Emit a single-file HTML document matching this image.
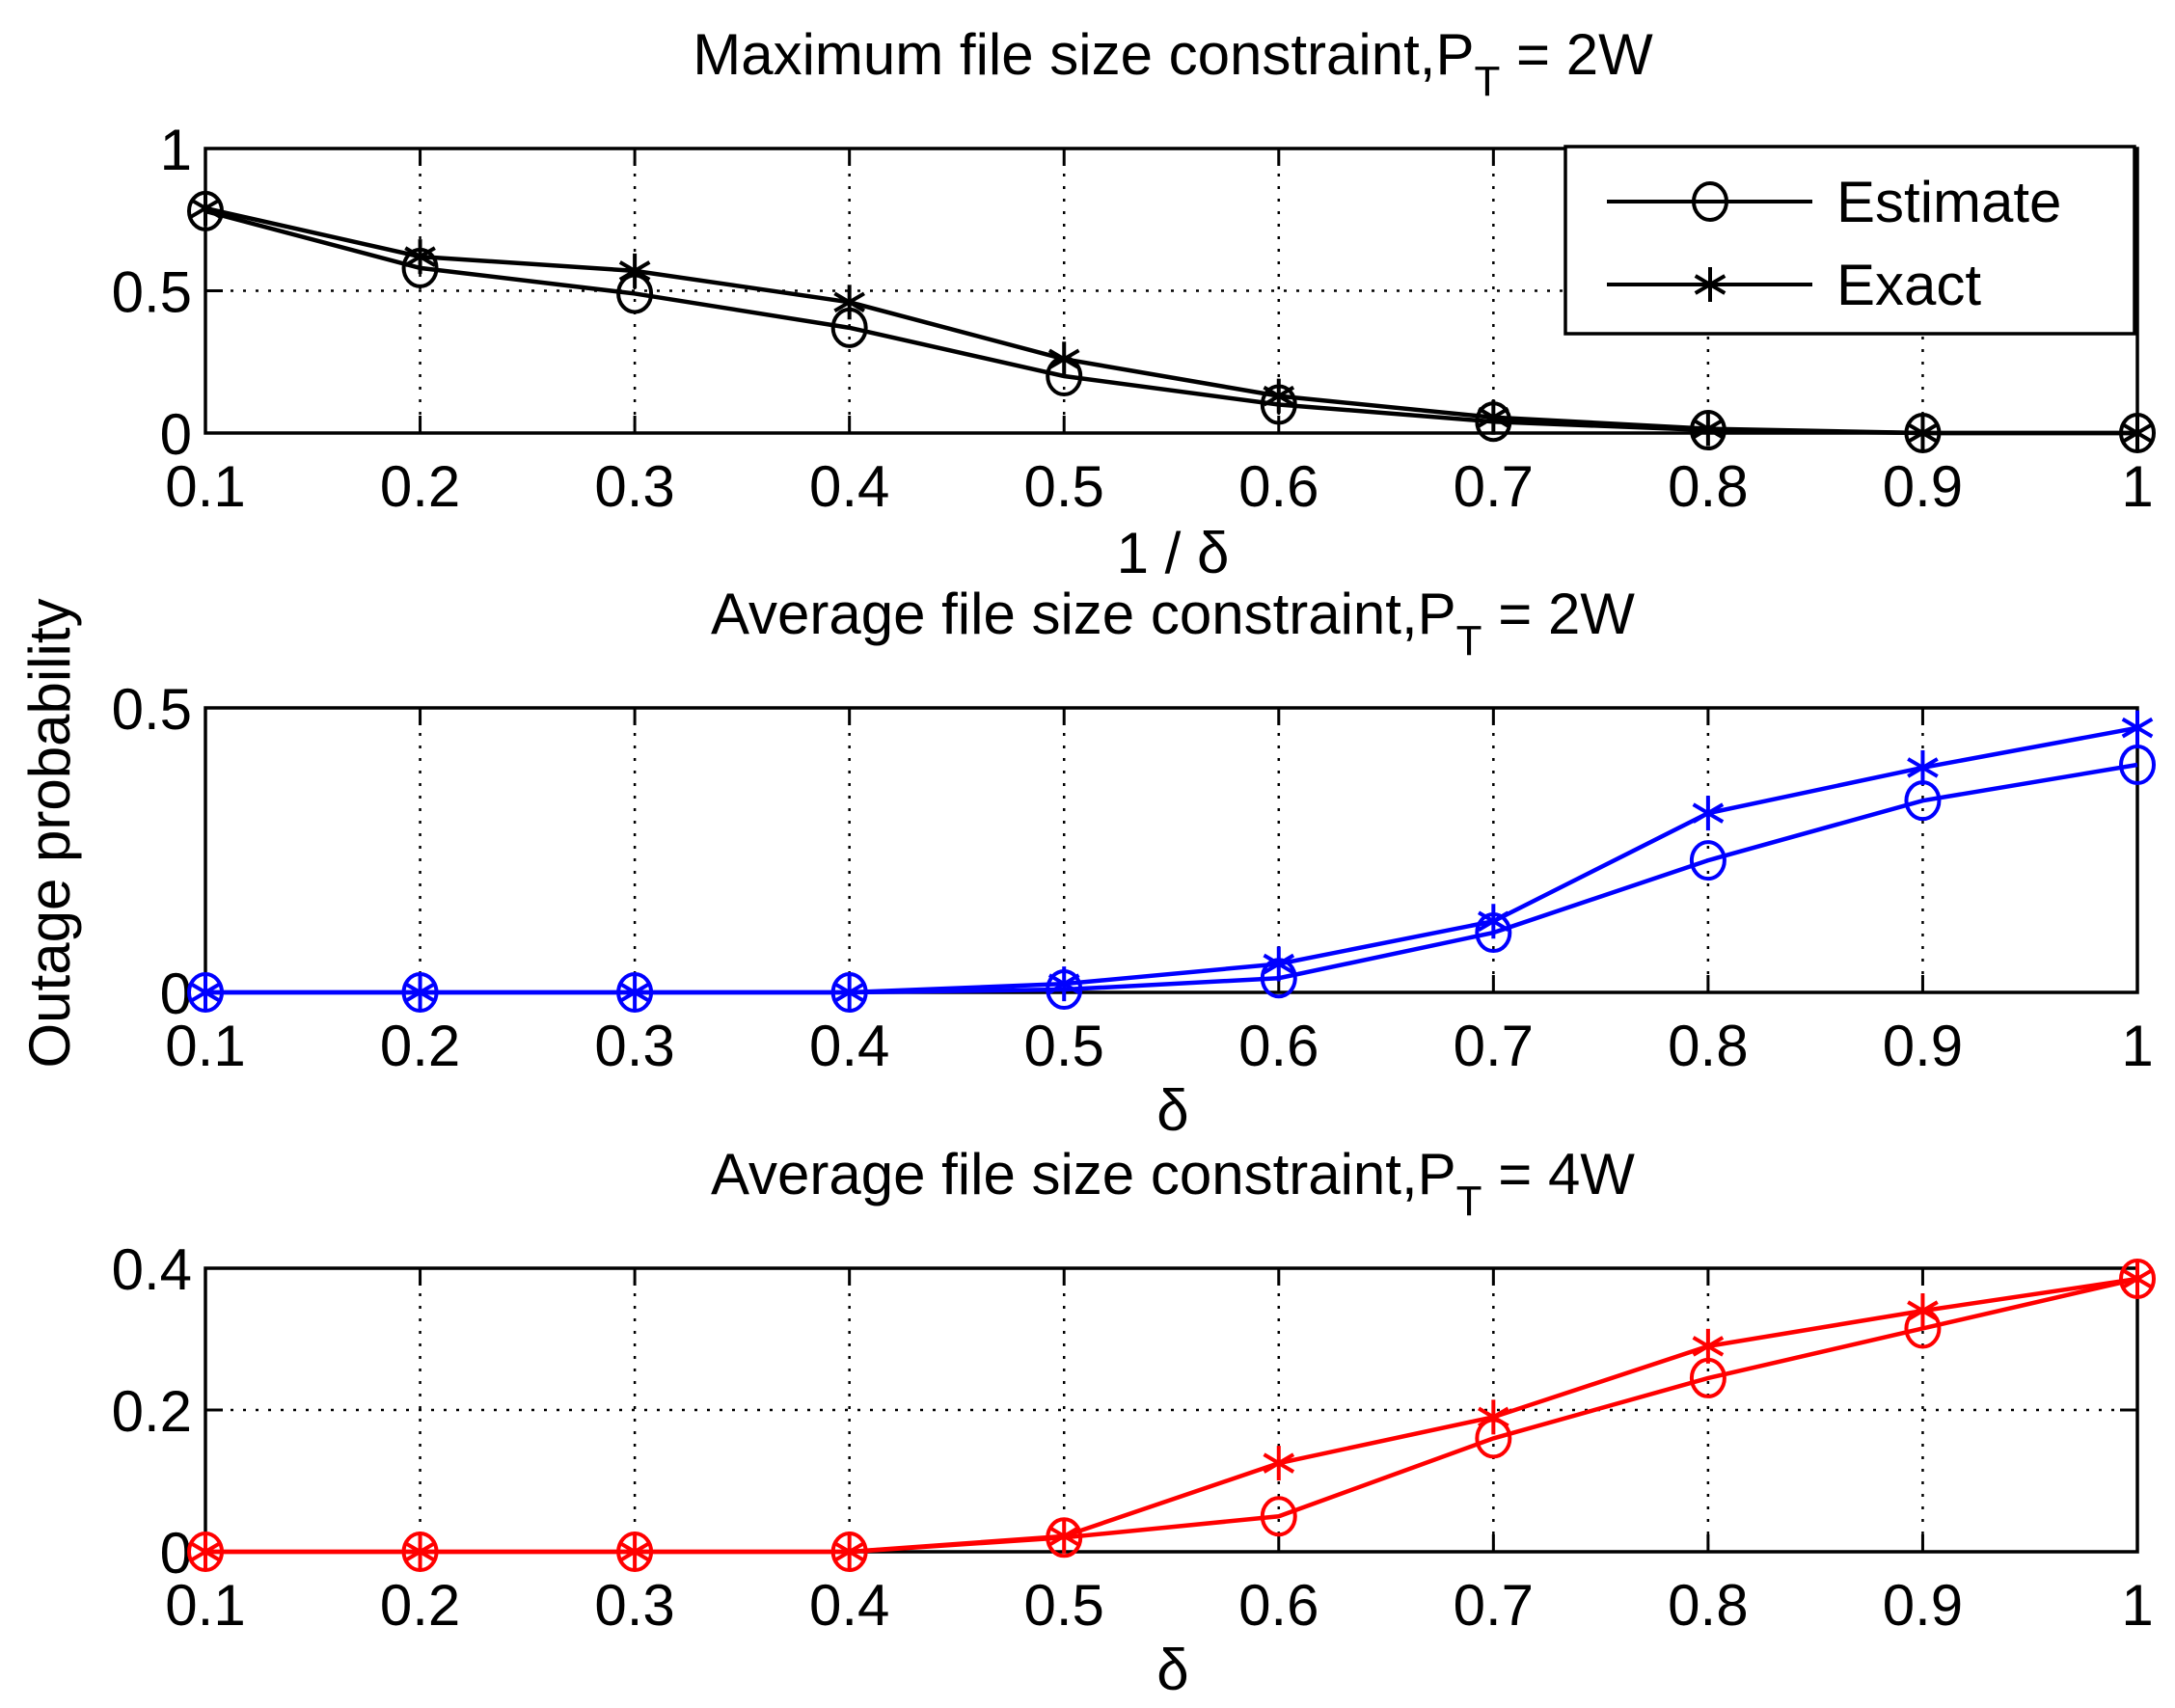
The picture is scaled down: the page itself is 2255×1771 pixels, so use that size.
<!DOCTYPE html>
<html><head><meta charset="utf-8"><style>
html,body{margin:0;padding:0;background:#fff;}
svg{display:block;font-family:"Liberation Sans",sans-serif;}
</style></head><body>
<svg id="chart" width="2255" height="1771" viewBox="0 0 2255 1771"></svg>
<script>
const xCats = [0.1,0.2,0.3,0.4,0.5,0.6,0.7,0.8,0.9,1];
const xTickLabels = ["0.1","0.2","0.3","0.4","0.5","0.6","0.7","0.8","0.9","1"];
const topEstimate = [0.78,0.58,0.49,0.37,0.20,0.10,0.04,0.01,0,0];
const topExact = [0.79,0.62,0.57,0.46,0.26,0.13,0.055,0.015,0,0];
const midEstimate = [0,0,0,0,0.005,0.025,0.105,0.232,0.337,0.40];
const midExact = [0,0,0,0,0.015,0.05,0.125,0.315,0.395,0.465];
const botEstimate = [0,0,0,0,0.02,0.05,0.16,0.245,0.315,0.385];
const botExact = [0,0,0,0,0.022,0.125,0.19,0.29,0.34,0.385];
const topYTicks = [0,0.5,1];
const midYTicks = [0,0.5];
const botYTicks = [0,0.2,0.4];

const NS="http://www.w3.org/2000/svg";
const svg=document.getElementById('chart');
function mk(tag,attrs,parent){const e=document.createElementNS(NS,tag);for(const k in attrs)e.setAttribute(k,attrs[k]);(parent||svg).appendChild(e);return e;}
const L=213,R=2216;
const FS=60;
function sx(v){return L+(v-0.1)/(0.9)*(R-L);}

function panel(name,top,bot,ymax,yTicks,est,exa,color,title,xlabel,xlabelY){
  const g=mk('g',{});
  
  
  const sy=v=>bot-(v/ymax)*(bot-top);
  xCats.forEach((c,i)=>{
    const x=sx(c);
    if(i>0&&i<xCats.length-1){const gl=mk('line',{x1:x,x2:x,y1:top,y2:bot,stroke:'#000','stroke-width':2.5,'stroke-dasharray':'3,10'},g);
      }
    mk('line',{x1:x,x2:x,y1:bot,y2:bot-18,stroke:'#000','stroke-width':3},g);
    mk('line',{x1:x,x2:x,y1:top,y2:top+18,stroke:'#000','stroke-width':3},g);
    const t=mk('text',{x:x,y:bot+76,'font-size':FS,'text-anchor':'middle'},g);
    t.textContent=xTickLabels[i];
    
  });
  yTicks.forEach(v=>{
    const y=sy(v);
    if(v>0&&v<ymax){const gl=mk('line',{x1:L,x2:R,y1:y,y2:y,stroke:'#000','stroke-width':2.5,'stroke-dasharray':'3,10'},g);
      }
    mk('line',{x1:L,x2:L+18,y1:y,y2:y,stroke:'#000','stroke-width':3},g);
    mk('line',{x1:R,x2:R-18,y1:y,y2:y,stroke:'#000','stroke-width':3},g);
    const t=mk('text',{x:L-14,y:y+22,'font-size':FS,'text-anchor':'end'},g);
    t.textContent=String(v);
    
  });
  const ax=mk('rect',{x:L,y:top,width:R-L,height:bot-top,fill:'none',stroke:'#000','stroke-width':3.5},g);
  
  const tt=mk('text',{x:1216,y:top-77,'font-size':FS,'text-anchor':'middle'},g);
  
  tt.innerHTML=title+'<tspan dy="22" font-size="44">T</tspan><tspan dy="-22"> = '+(name==='bottom'?'4W':'2W')+'</tspan>';
  const xl=mk('text',{x:1216,y:xlabelY,'font-size':FS,'text-anchor':'middle'},g);
  xl.textContent=xlabel;
  
  [[est,'estimate'],[exa,'exact']].forEach(([arr,kind])=>{
    const pts=arr.map((v,i)=>sx(xCats[i])+','+sy(v)).join(' ');
    const pl=mk('polyline',{points:pts,fill:'none',stroke:color,'stroke-width':4.5},g);
    
    arr.forEach((v,i)=>{
      const x=sx(xCats[i]),y=sy(v);
      if(kind==='estimate'){
        const c=mk('ellipse',{cx:x,cy:y,rx:17,ry:19,fill:'none',stroke:color,'stroke-width':4},g);
        
      } else {
        const m=mk('g',{stroke:color,'stroke-width':4},g);
        
        const r=18;
        mk('line',{x1:x,x2:x,y1:y-r,y2:y+r},m);
        mk('line',{x1:x-r*0.85,x2:x+r*0.85,y1:y-r*0.5,y2:y+r*0.5},m);
        mk('line',{x1:x-r*0.85,x2:x+r*0.85,y1:y+r*0.5,y2:y-r*0.5},m);
      }
    });
  });
}
panel('top',154,449,1,topYTicks,topEstimate,topExact,'#000','Maximum file size constraint,P','1 / δ',594);
panel('middle',734,1029,0.5,midYTicks,midEstimate,midExact,'#0000ff','Average file size constraint,P','δ',1172);
panel('bottom',1315,1609,0.4,botYTicks,botEstimate,botExact,'#ff0000','Average file size constraint,P','δ',1752);

const yl=mk('text',{x:0,y:0,'font-size':FS,'text-anchor':'middle',transform:'translate(72,864) rotate(-90)'});
yl.textContent='Outage probability';



const lg=mk('g',{});


mk('rect',{x:1623,y:152,width:590,height:194,fill:'#fff',stroke:'#000','stroke-width':3.5},lg);
[['Estimate',209,'estimate'],['Exact',295,'exact']].forEach(([lab,y,kind])=>{
  const e=mk('g',{},lg);
  
  
  mk('line',{x1:1666,x2:1879,y1:y,y2:y,stroke:'#000','stroke-width':4},e);
  if(kind==='estimate') mk('ellipse',{cx:1773,cy:y,rx:17,ry:19,fill:'none',stroke:'#000','stroke-width':4},e);
  else {const r=18;mk('line',{x1:1773,x2:1773,y1:y-r,y2:y+r,stroke:'#000','stroke-width':4},e);
    mk('line',{x1:1773-r*.85,x2:1773+r*.85,y1:y-r*.5,y2:y+r*.5,stroke:'#000','stroke-width':4},e);
    mk('line',{x1:1773-r*.85,x2:1773+r*.85,y1:y+r*.5,y2:y-r*.5,stroke:'#000','stroke-width':4},e);}
  const t=mk('text',{x:1904,y:y+21,'font-size':FS},e);t.textContent=lab;
});
</script>
</body></html>
